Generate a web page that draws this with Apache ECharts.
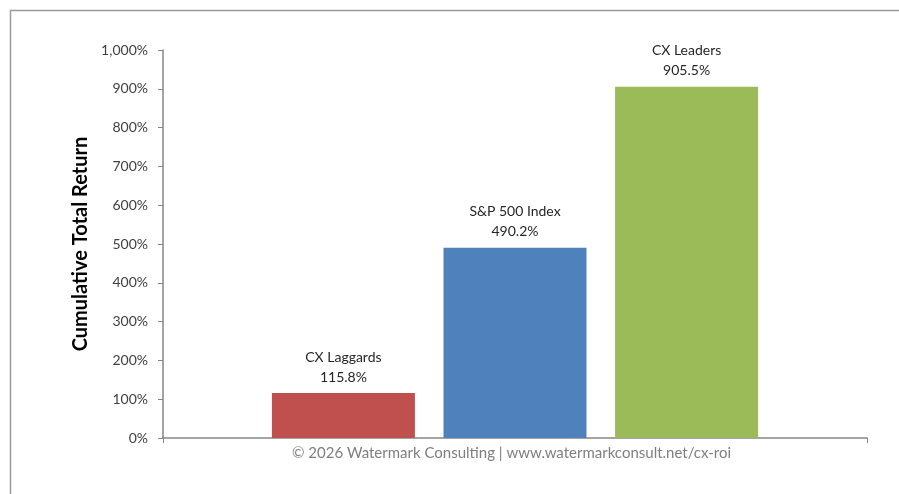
<!DOCTYPE html>
<html>
<head>
<meta charset="utf-8">
<script src="https://cdn.jsdelivr.net/npm/echarts@6/dist/echarts.min.js"></script>
<style>
html,body{margin:0;padding:0;background:#fff;}
#chart{width:899px;height:494px;}
</style>
</head>
<body>
<div id="chart"></div>
<script>
const categories = [''];
const seriesNames = ['CX Laggards', 'S&P 500 Index', 'CX Leaders'];
const seriesValues = [115.8, 490.2, 905.5];
const seriesColors = ['#C0504D', '#4F81BD', '#9BBB59'];
const yTicks = [0, 1000, 100];
const axisTitle = 'Cumulative Total Return';
const footer = '© 2026 Watermark Consulting | www.watermarkconsult.net/cx-roi';

const FONT = 'Lato, "Open Sans", sans-serif';
const chart = echarts.init(document.getElementById('chart'), null, {renderer: 'canvas'});

const series = seriesNames.map((n, i) => ({
  name: n,
  type: 'bar',
  data: [seriesValues[i]],
  barWidth: 143,
  barGap: '20%',
  itemStyle: {color: seriesColors[i]},
  label: {
    show: true,
    position: 'top',
    distance: 6,
    fontFamily: FONT,
    fontSize: 14,
    lineHeight: 20,
    color: '#262626',
    align: 'center',
    formatter: p => n + '\n' + p.value.toFixed(1) + '%'
  }
}));

chart.setOption({
  animation: false,
  backgroundColor: '#fff',
  grid: {left: 163, right: 32, top: 50, bottom: 56, containLabel: false},
  xAxis: {
    type: 'category',
    data: categories,
    boundaryGap: true,
    axisLine: {lineStyle: {color: '#868686', width: 1.5}},
    axisTick: {show: true, length: 5, lineStyle: {color: '#868686'}},
    axisLabel: {show: false}
  },
  yAxis: {
    type: 'value',
    min: yTicks[0],
    max: yTicks[1],
    interval: yTicks[2],
    name: axisTitle,
    nameLocation: 'middle',
    nameGap: 63,
    nameRotate: 90,
    nameTextStyle: {fontFamily: FONT, fontSize: 20, fontWeight: 'bold', color: '#000'},
    axisLine: {show: true, lineStyle: {color: '#868686', width: 1.5}},
    axisTick: {show: true, length: 5, lineStyle: {color: '#868686'}},
    splitLine: {show: false},
    axisLabel: {
      fontFamily: FONT, fontSize: 14, color: '#404040', margin: 15,
      formatter: v => v.toLocaleString('en-US') + '%'
    }
  },
  graphic: [
    {type: 'rect', left: 8, top: 8, shape: {width: 1000, height: 600},
     style: {fill: 'none', stroke: '#9a9a9a', lineWidth: 1.5}, silent: true, z: -1},
    {type: 'text', left: 292, top: 446,
     style: {text: footer, fontFamily: FONT, fontSize: 15, fill: '#7f7f7f'}}
  ],
  series: series
});
</script>
</body>
</html>
